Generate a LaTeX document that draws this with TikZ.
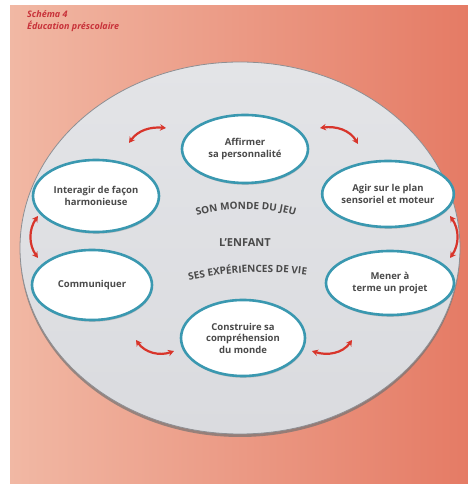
\documentclass[tikz,border=0pt]{standalone}
\usepackage{fontspec}
\setmainfont{Open Sans}
\usetikzlibrary{shapes.geometric,arrows.meta,shadows,decorations.text}
\definecolor{bgL}{HTML}{F1B8A4}
\definecolor{bgR}{HTML}{E57B65}
\definecolor{plate}{HTML}{DADBDF}
\definecolor{plateTop}{HTML}{E3E4E7}
\definecolor{rim}{HTML}{8E8F93}
\definecolor{teal}{HTML}{3A98B0}
\definecolor{txt}{HTML}{4A4A4A}
\definecolor{arrowred}{HTML}{D8352B}
\definecolor{titlered}{HTML}{C8323A}
\tikzset{
  bubble/.style={ellipse, draw=teal, line width=2.6pt, fill=white, align=center,
    text=txt, inner sep=0pt, font=\bfseries\fontsize{9.5}{11.5}\selectfont,
    drop shadow={opacity=0.35, shadow xshift=0.6pt, shadow yshift=-1.8pt}},
  link/.style={draw=arrowred, line width=2.2pt,
    {Stealth[length=6pt,width=6.5pt]}-{Stealth[length=6pt,width=6.5pt]}},
  titletext/.style={anchor=west, inner sep=0pt, text=titlered,
    font=\bfseries\itshape\fontsize{9}{10.5}\selectfont},
  centertext/.style={inner sep=0pt, text=txt, font=\bfseries\fontsize{11}{13}\selectfont}
}
\begin{document}
\begin{tikzpicture}[x=1pt,y=1pt]
\useasboundingbox (0,0) rectangle (468,487);
\fill[white] (0,0) rectangle (468,487);
\shade[left color=bgL, right color=bgR] (10,3) rectangle (468,481);
% plate
\fill[black!55, opacity=0.7] (240,236) ellipse [x radius=220, y radius=186];
\shade[top color=plateTop, bottom color=plate, draw=rim, line width=0.8pt]
  (240,239) ellipse [x radius=220, y radius=186];
% title
\node[titletext] (t1) at (27,473) {Schéma 4};
\node[titletext] (t2) at (27,461) {Éducation préscolaire};
% bubbles
\node[bubble, minimum width=126pt, minimum height=68pt] (aff) at (245,338) {Affirmer\\sa personnalité};
\node[bubble, minimum width=126pt, minimum height=72pt] (inter) at (96,291) {Interagir de façon\\harmonieuse};
\node[bubble, minimum width=130pt, minimum height=66pt] (agir) at (388,293) {Agir sur le plan\\sensoriel et moteur};
\node[bubble, minimum width=120pt, minimum height=70pt] (comm) at (92,202) {Communiquer};
\node[bubble, minimum width=128pt, minimum height=64pt] (mener) at (390,204) {Mener à\\terme un projet};
\node[bubble, minimum width=124pt, minimum height=76pt] (constr) at (243,149) {Construire sa\\compréhension\\du monde};
% centre
\node[centertext] (enfant) at (245,244) {L'ENFANT};
\path[decorate, decoration={text along path, text align=center,
  text={|\color{txt}\bfseries\fontsize{10}{12}\selectfont|SON MONDE DU JEU}}]
  (188,268) .. controls (218,281) and (274,281) .. (304,268);
\path[decorate, decoration={text along path, text align=center,
  text={|\color{txt}\bfseries\fontsize{10}{12}\selectfont|SES EXPÉRIENCES DE VIE}}]
  (178,203) .. controls (218,216) and (277,218) .. (318,210);
% arrows
\draw[link] ([shift={(33,53)}]inter.center) to[out=55,in=175] ([shift={(-79,21)}]aff.center);
\draw[link] ([shift={(75,21)}]aff.center) to[out=8,in=120] ([shift={(-30,50)}]agir.center);
\draw[link] ([shift={(-58,-20)}]inter.center) to[out=235,in=125] ([shift={(-54,27)}]comm.center);
\draw[link] ([shift={(62,-22)}]agir.center) to[out=-55,in=55] ([shift={(60,25)}]mener.center);
\draw[link] ([shift={(44,-55)}]comm.center) to[out=-55,in=200] ([shift={(-69,-13)}]constr.center);
\draw[link] ([shift={(69,-13)}]constr.center) to[out=-18,in=-125] ([shift={(-38,-57)}]mener.center);
\end{tikzpicture}
\end{document}
